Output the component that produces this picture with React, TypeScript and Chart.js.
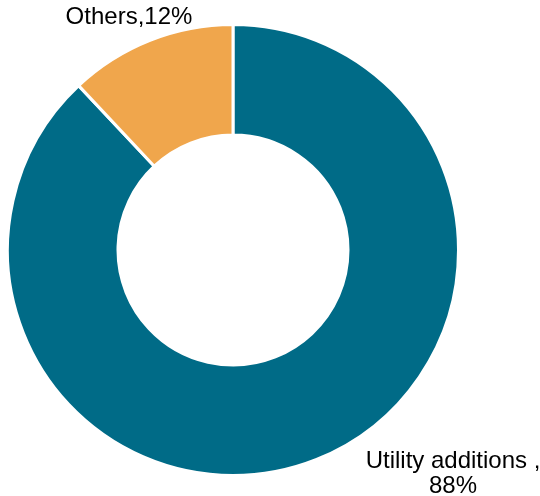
import React, { useEffect, useRef } from "react";
import { Chart, registerables } from "chart.js";

Chart.register(...registerables);

const categories = ["Utility additions", "Others"];
const values = [88, 12];
const labelLines = [["Utility additions ,", "88%"], ["Others,12%"]];
const colors = ["#006B87", "#F0A64C"];

const labelOffsets = [
  { dx: 137, dy: 2 },
  { dx: -21, dy: -23 },
];

const labelPlugin = {
  id: "sliceLabels",
  afterDraw(chart: any) {
    const ctx = chart.ctx;
    const meta = chart.getDatasetMeta(0);
    ctx.save();
    ctx.font = '24px "Liberation Sans", Arial, sans-serif';
    ctx.fillStyle = "#000000";
    ctx.textAlign = "center";
    ctx.textBaseline = "middle";
    meta.data.forEach((arc: any, i: number) => {
      const p = arc.getProps(["x", "y", "startAngle", "endAngle", "outerRadius"], true);
      const mid = (p.startAngle + p.endAngle) / 2;
      const ax = p.x + Math.cos(mid) * p.outerRadius;
      const ay = p.y + Math.sin(mid) * p.outerRadius;
      const lines = labelLines[i];
      const off = labelOffsets[i];
      lines.forEach((t, j) => {
        ctx.fillText(t, ax + off.dx, ay + off.dy + j * 25);
      });
    });
    ctx.restore();
  },
};

export default function App() {
  const ref = useRef<HTMLCanvasElement>(null);
  useEffect(() => {
    if (!ref.current) return;
    const chart = new Chart(ref.current, {
      type: "doughnut",
      data: {
        labels: categories,
        datasets: [
          {
            data: values,
            backgroundColor: colors,
            borderColor: "#ffffff",
            borderWidth: 3,
          },
        ],
      },
      options: {
        responsive: false,
        animation: false,
        cutout: "51%",
        layout: { padding: { left: 6, top: 23, right: 80, bottom: 19 } },
        plugins: {
          legend: { display: false },
          tooltip: { enabled: false },
        },
      },
      plugins: [labelPlugin],
    });
    return () => chart.destroy();
  }, []);
  return (
    <div style={{ position: "fixed", left: 0, top: 0, width: 540, height: 496, background: "#fff" }}>
      <canvas ref={ref} width={540} height={496} />
    </div>
  );
}
